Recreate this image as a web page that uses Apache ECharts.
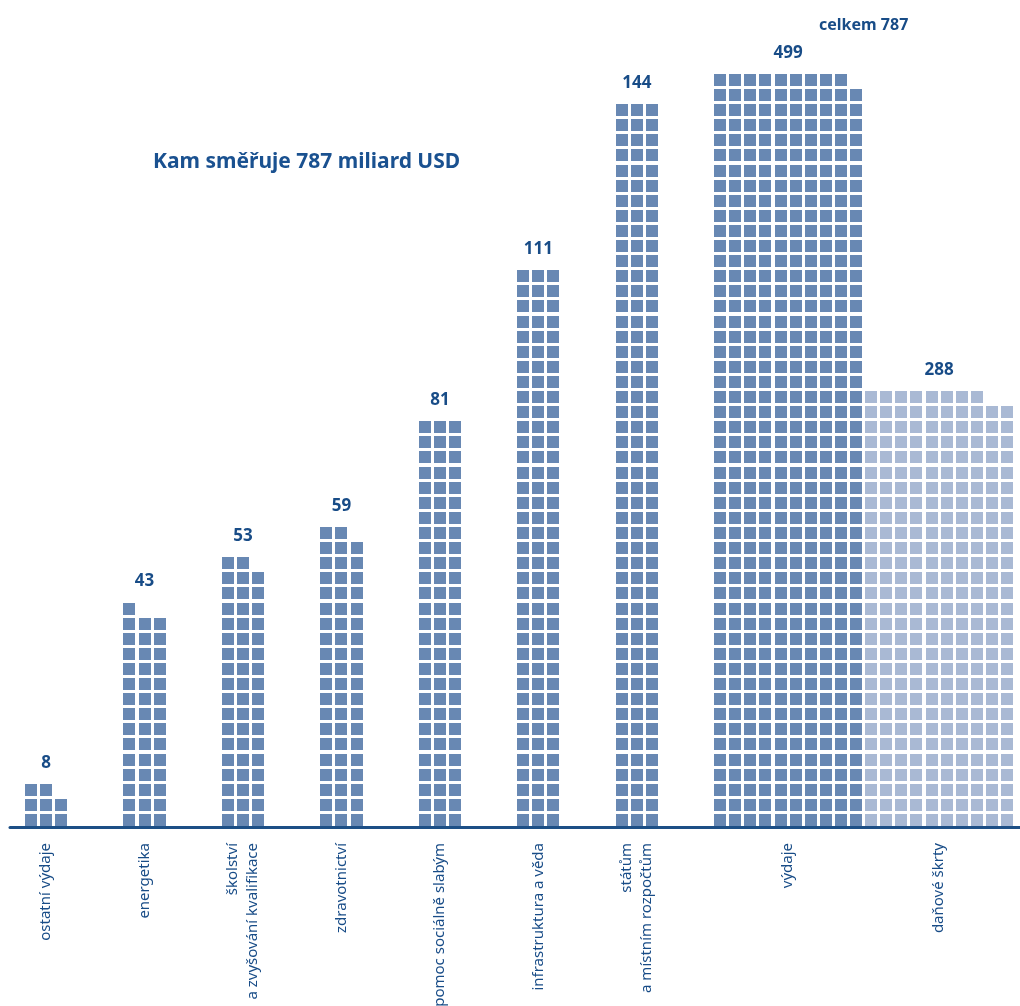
<!DOCTYPE html>
<html>
<head>
<meta charset="utf-8">
<script src="https://cdn.jsdelivr.net/npm/echarts@6/dist/echarts.min.js"></script>
<style>
html,body{margin:0;padding:0;background:#fff;}
#chart{width:1020px;height:1006px;}
</style>
</head>
<body>
<div id="chart"></div>
<script>
// ---- data ----
const categories = [
  'ostatní výdaje',
  'energetika',
  'školství\na zvyšování kvalifikace',
  'zdravotnictví',
  'pomoc sociálně slabým',
  'infrastruktura a věda',
  'státům\na místním rozpočtům',
  'výdaje',
  'daňové škrty'
];
const values = [8, 43, 53, 59, 81, 111, 144, 499, 288];
const titleText = 'Kam směřuje 787 miliard USD';
const totalPrefix = 'celkem';

// ---- layout (not data) ----
const columnsPerGroup = [3, 3, 3, 3, 3, 3, 3, 10, 10];
const lightGroups = [8];
const firstStart = 1.656;
const groupStep = 6.52;
const cell = 0.8; // square size in axis units (gap 0.2)
const DARK = '#6888b3', LIGHT = '#a9b9d4', NAVY = '#184c87';
const FONT = '"Noto Sans", "Open Sans", sans-serif';

const starts = [];
values.forEach(function (v, i) {
  if (i < 8) starts.push(firstStart + i * groupStep);
  else starts.push(starts[i - 1] + columnsPerGroup[i - 1]);
});

const squares = [];
values.forEach(function (v, i) {
  const cols = columnsPerGroup[i];
  for (let k = 0; k < v; k++) {
    squares.push([starts[i] + (k % cols), Math.floor(k / cols), lightGroups.indexOf(i) >= 0 ? 1 : 0]);
  }
});

const labelsData = values.map(function (v, i) {
  const cols = columnsPerGroup[i];
  return [starts[i] + (cols - (1 - cell)) / 2, Math.ceil(v / cols) - 1 + cell, v, i];
});
const total = values[7] + values[8];

const chart = echarts.init(document.getElementById('chart'), null, {renderer: 'canvas'});
chart.setOption({
  animation: false,
  title: {
    text: titleText, left: 148, top: 147,
    textStyle: {fontFamily: FONT, fontSize: 21, fontWeight: 'bold', color: '#1a5190'}
  },
  grid: {left: 10, right: 0, top: 1.5, bottom: 178.5},
  xAxis: {
    type: 'value', min: 10 / 15.1, max: 1020 / 15.1,
    axisLine: {show: true, onZero: false, lineStyle: {color: '#1d4f86', width: 3}},
    axisTick: {show: false}, axisLabel: {show: false}, splitLine: {show: false}
  },
  yAxis: {
    type: 'value', min: -0.1, max: 54.6,
    axisLine: {show: false}, axisTick: {show: false}, axisLabel: {show: false}, splitLine: {show: false}
  },
  series: [
    {
      type: 'custom',
      data: squares,
      encode: {x: 0, y: 1},
      renderItem: function (params, api) {
        const p = api.coord([api.value(0), api.value(1) + cell]);
        const s = api.size([cell, cell]);
        return {
          type: 'rect',
          shape: {x: Math.round(p[0]), y: Math.round(p[1]), width: Math.round(s[0]), height: Math.round(s[1])},
          style: {fill: api.value(2) === 1 ? LIGHT : DARK}
        };
      }
    },
    {
      type: 'custom',
      data: labelsData,
      encode: {x: 0, y: 1},
      clip: false,
      renderItem: function (params, api) {
        const idx = api.value(3);
        const top = api.coord([api.value(0), api.value(1)]);
        const base = api.coord([api.value(0), 0]);
        const children = [
          {
            type: 'text', x: top[0], y: top[1] - 21,
            style: {text: String(api.value(2)), align: 'center', verticalAlign: 'middle',
              fontFamily: FONT, fontSize: 17, fontWeight: 'bold', fill: NAVY}
          },
          {
            type: 'text', x: base[0], y: base[1] + 17, rotation: Math.PI / 2,
            style: {text: categories[idx], align: 'right', verticalAlign: 'middle',
              fontFamily: FONT, fontSize: 15, lineHeight: 20, fill: NAVY}
          }
        ];
        if (idx === 7) {
          const bx = api.coord([starts[8] - (1 - cell) / 2, 0])[0];
          children.push({
            type: 'text', x: bx, y: top[1] - 49,
            style: {text: totalPrefix + ' ' + total, align: 'center', verticalAlign: 'middle',
              fontFamily: FONT, fontSize: 16, fontWeight: 'bold', fill: NAVY}
          });
        }
        return {type: 'group', children: children};
      }
    }
  ]
});
</script>
</body>
</html>
